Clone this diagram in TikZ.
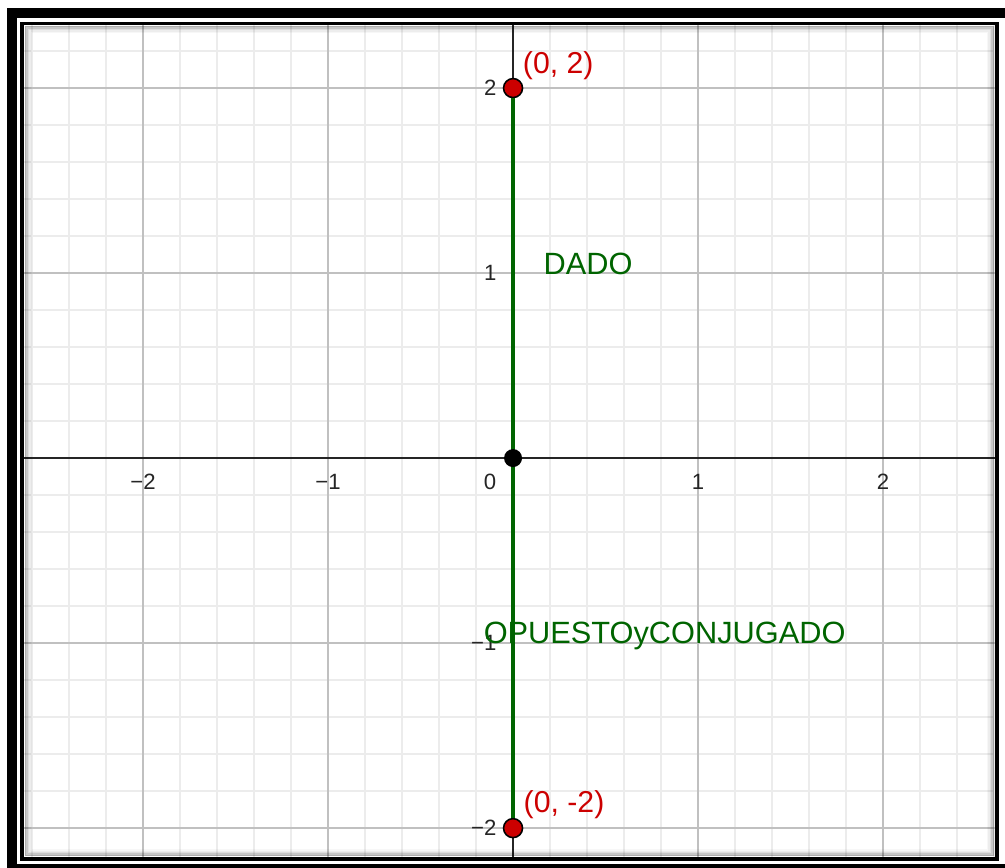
\documentclass[tikz,border=0pt]{standalone}
\usepackage{fontspec}
\setmainfont{Liberation Sans}
\usetikzlibrary{positioning}
\definecolor{minorc}{RGB}{236,236,236}
\definecolor{majorc}{RGB}{192,192,192}
\definecolor{axisc}{RGB}{37,37,37}
\definecolor{segc}{RGB}{0,100,0}
\definecolor{ptc}{RGB}{204,0,0}
\tikzset{
  minorgrid/.style={draw=minorc, line width=0.4pt},
  majorgrid/.style={draw=majorc, line width=0.55pt},
  axisline/.style={draw=axisc, line width=0.6pt},
  seg/.style={draw=segc, line width=1.0pt},
  ticklbl/.style={font=\fontsize{6.3}{7}\selectfont, text=axisc, inner sep=0pt},
  ptlbl/.style={font=\fontsize{8.6}{10}\selectfont, text=ptc, inner sep=0pt, anchor=base west},
  seglbl/.style={font=\fontsize{8.75}{10}\selectfont, text=segc, inner sep=0pt, anchor=base west},
  redpt/.style={circle, fill=ptc, draw=black, line width=0.45pt, minimum size=0.19cm, inner sep=0pt},
  blackpt/.style={circle, fill=black, minimum size=0.18cm, inner sep=0pt},
  frameband/.style={draw=black, line width=0.1cm},
  frameline/.style={draw=black, line width=0.035cm},
}

\begin{document}
\begin{tikzpicture}[x=1.85cm, y=1.85cm]

  \useasboundingbox (-2.773,-2.211) rectangle (2.659,2.476);
  \clip (-2.773,-2.211) rectangle (2.659,2.476);

  % grid
  \foreach \k in {-13,...,13}
    \draw[minorgrid] (\k/5,-2.157) -- (\k/5,2.341);
  \foreach \k in {-10,...,11}
    \draw[minorgrid] (-2.643,\k/5) -- (2.605,\k/5);
  \foreach \k in {-2,...,2} {
    \draw[majorgrid] (\k,-2.157) -- (\k,2.341);
    \draw[majorgrid] (-2.643,\k) -- (2.605,\k);
  }

  % axes
  \coordinate (xa) at (-2.643,0);
  \coordinate (xb) at (2.605,0);
  \coordinate (ya) at (0,-2.157);
  \coordinate (yb) at (0,2.341);
  \draw[axisline] (xa) -- (xb);
  \draw[axisline] (ya) -- (yb);

  \foreach \v/\t [count=\i] in {-2/−2,-1/−1,1/1,2/2} {
    \node[ticklbl, anchor=base] (xt\i) at (\v,-0.168) {\t};
    \node[ticklbl, anchor=east] (yt\i) at (-0.086,\v) {\t};
  }
  \node[ticklbl, anchor=base] (zero) at (-0.124,-0.168) {0};

  % labels
  \node[ptlbl] (lA) at (0.05,2.081) {(0, 2)};
  \node[ptlbl] (lB) at (0.054,-1.914) {(0, -2)};
  \node[seglbl] (dado) at (0.162,0.995) {DADO};
  \node[seglbl] (opc) at (-0.162,-1.0) {OPUESTOyCONJUGADO};

  % points and segment
  \node[redpt] (A) at (0,2) {};
  \node[redpt] (B) at (0,-2) {};
  \draw[seg] (A) -- (B);
  \node[blackpt] (O) at (0,0) {};

  % frame
  \foreach \j/\o in {1/0.32,2/0.22,3/0.13,4/0.07,5/0.03}
    \draw[black, opacity=\o, line width=0.015cm]
      ({-2.643+\j*0.008},{-2.157+\j*0.008}) rectangle ({2.605-\j*0.008},{2.341-\j*0.008});
  \draw[frameline] (-2.654,2.349) rectangle (2.616,-2.168);
  \draw[frameband] (-2.708,2.408) rectangle (2.69,-2.222);

\end{tikzpicture}
\end{document}
